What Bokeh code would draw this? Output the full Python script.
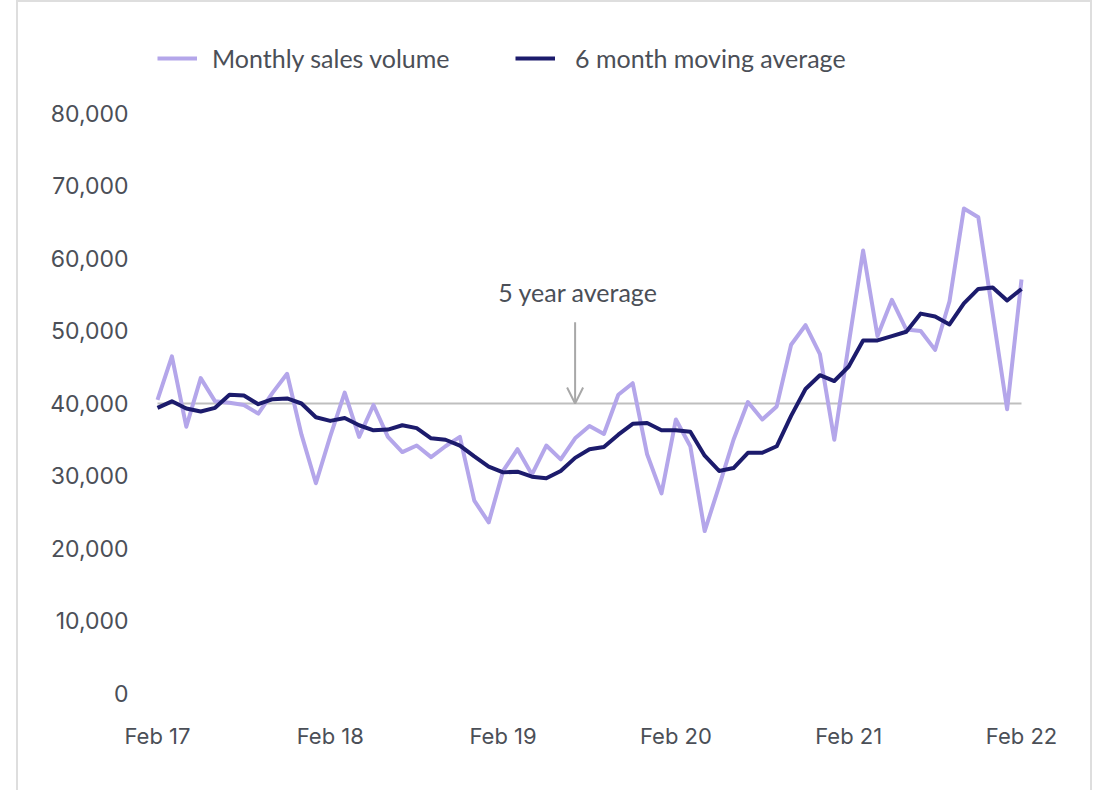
from bokeh.plotting import figure
from bokeh.models import (Legend, LegendItem, Label, Arrow, OpenHead, FixedTicker,
                          NumeralTickFormatter, Range1d)
from bokeh.embed import file_html
from bokeh.resources import INLINE

# ---- data ----
monthly_sales = [40500, 46500, 36800, 43500, 40300, 40100, 39800, 38600, 41500, 44100,
                 35700, 29000, 35500, 41500, 35400, 39800, 35400, 33300, 34200, 32600,
                 34100, 35400, 26600, 23600, 30700, 33700, 30200, 34200, 32300, 35200,
                 36900, 35800, 41200, 42800, 33000, 27600, 37800, 34100, 22400, 28600,
                 35000, 40200, 37800, 39600, 48100, 50800, 46800, 35000, 48200, 61100,
                 49300, 54300, 50200, 50000, 47400, 54100, 66900, 65700, 52400, 39200,
                 57100]
moving_avg = [39400, 40300, 39300, 38900, 39400, 41200, 41100, 39900, 40600, 40700,
              40000, 38100, 37600, 38000, 37000, 36300, 36400, 37000, 36600, 35200,
              35000, 34200, 32700, 31300, 30500, 30600, 29900, 29700, 30700, 32500,
              33700, 34000, 35700, 37200, 37300, 36300, 36300, 36100, 32800, 30700,
              31100, 33200, 33200, 34100, 38300, 42000, 43900, 43100, 45100, 48700,
              48700, 49300, 49900, 52400, 52000, 50900, 53800, 55800, 56000, 54200,
              55800]
months = list(range(len(monthly_sales)))
tick_positions = [0, 12, 24, 36, 48, 60]
tick_labels = ["Feb 17", "Feb 18", "Feb 19", "Feb 20", "Feb 21", "Feb 22"]
y_ticks = [0, 10000, 20000, 30000, 40000, 50000, 60000, 70000, 80000]
five_year_avg = 40000
annotation_month = 29
annotation_text = "5 year average"

LIGHT = "#b4a6ea"
DARK = "#1c1b6c"
GREY = "#a8a8a8"
TEXT = "#4b4f57"

p = figure(width=1076, height=790,
           x_range=Range1d(-1.1806, 61.319), y_range=Range1d(-2483, 91586),
           output_backend="svg", toolbar_location=None,
           min_border_left=122, min_border_right=54,
           min_border_top=27, min_border_bottom=81)
p.styles = {"border-top": "2px solid #dedede",
            "border-left": "2px solid #dedede",
            "border-right": "2px solid #dedede",
            "margin-left": "16px"}
p.outline_line_color = None
p.background_fill_color = "white"
p.border_fill_color = "white"
p.xgrid.visible = False
p.ygrid.visible = False

# 5-year average line
p.line([months[0], months[-1]], [five_year_avg, five_year_avg],
       line_color="#bfbfbf", line_width=2)

r1 = p.line(months, monthly_sales, line_color=LIGHT, line_width=4, line_join="round")
r2 = p.line(months, moving_avg, line_color=DARK, line_width=4, line_join="round")

# axes
for ax in (p.xaxis[0], p.yaxis[0]):
    ax.axis_line_color = None
    ax.major_tick_line_color = None
    ax.minor_tick_line_color = None
    ax.major_label_text_color = TEXT
    ax.major_label_text_font = "Inter"

p.xaxis.ticker = FixedTicker(ticks=tick_positions)
p.xaxis.major_label_overrides = {t: l for t, l in zip(tick_positions, tick_labels)}
p.xaxis.major_label_text_font_size = "22px"
p.xaxis.major_label_standoff = 5

p.yaxis.ticker = FixedTicker(ticks=y_ticks)
p.yaxis.formatter = NumeralTickFormatter(format="0,0")
p.yaxis.major_label_text_font_size = "23px"
p.yaxis.major_label_standoff = 6

# annotation
p.add_layout(Arrow(end=OpenHead(size=16, line_color=GREY, line_width=2),
                   x_start=annotation_month, y_start=51200,
                   x_end=annotation_month, y_end=five_year_avg,
                   line_color=GREY, line_width=2))
p.add_layout(Label(x=annotation_month, y=55400, text=annotation_text,
                   text_align="center", text_baseline="middle", x_offset=3,
                   text_font="Lato", text_font_size="25px", text_color=TEXT))

# legends
def make_legend(label, renderer, loc, standoff):
    lg = Legend(items=[LegendItem(label=label, renderers=[renderer])],
                location=loc, orientation="horizontal",
                glyph_width=40, glyph_height=20, label_standoff=standoff,
                padding=0, margin=0, border_line_color=None,
                background_fill_alpha=0,
                label_text_font="Lato", label_text_font_size="25px",
                label_text_color=TEXT)
    return lg

p.add_layout(make_legend("Monthly sales volume", r1, (17, 638), 15))
p.add_layout(make_legend("6 month moving average", r2, (375, 638), 20))

open("out.html", "w").write(file_html(p, INLINE))
